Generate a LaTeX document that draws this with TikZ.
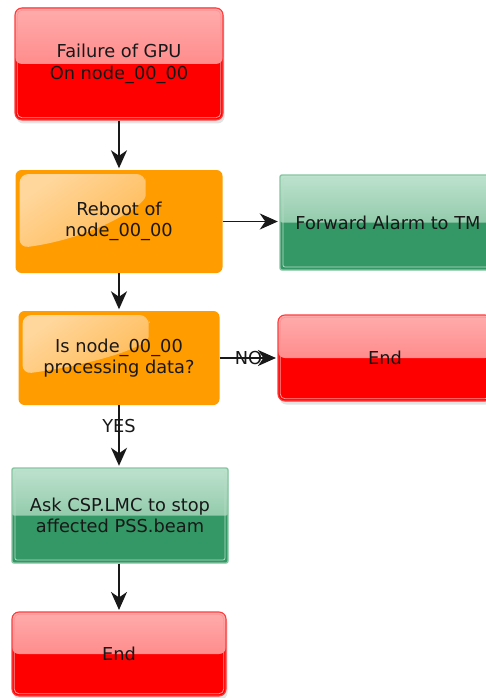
\documentclass[tikz,border=0pt]{standalone}
\usepackage{fontspec}
\setmainfont{DejaVu Sans}
\usetikzlibrary{arrows.meta,shadows}

\definecolor{redfill}{RGB}{255,0,0}
\definecolor{redtop}{RGB}{255,172,172}
\definecolor{redmid}{RGB}{255,108,108}
\definecolor{redline}{RGB}{255,60,60}
\definecolor{redinner}{RGB}{255,150,150}
\definecolor{grnfill}{RGB}{52,152,102}
\definecolor{grntop}{RGB}{190,226,206}
\definecolor{grnmid}{RGB}{104,180,138}
\definecolor{grnline}{RGB}{135,198,162}
\definecolor{orgfill}{RGB}{255,156,0}
\definecolor{orgglow}{RGB}{255,214,155}
\definecolor{orgfade}{RGB}{255,168,40}
\definecolor{txt}{RGB}{24,24,24}

\tikzset{
  lbl/.style={font=\fontsize{17.8}{21.5}\selectfont, text=txt, align=center},
  redbox/.style={lbl, rounded corners=7pt, fill=redfill, draw=redline, line width=1.1pt,
      drop shadow={opacity=0.22, shadow xshift=1.5pt, shadow yshift=-3.5pt},
      path picture={
        \fill[top color=redtop, bottom color=redmid]
          (path picture bounding box.north west) rectangle (path picture bounding box.east);
        \draw[redinner, line width=0.8pt, rounded corners=5pt]
          ([shift={(2.2,2.2)}]path picture bounding box.north west) rectangle
          ([shift={(-2.2,-2.2)}]path picture bounding box.south east);}},
  grnbox/.style={lbl, rounded corners=2pt, fill=grnfill, draw=grnline, line width=1.4pt,
      path picture={
        \fill[top color=grntop, bottom color=grnmid]
          (path picture bounding box.north west) rectangle (path picture bounding box.east);
        \draw[grnline!60!white, line width=0.7pt]
          ([shift={(3,3)}]path picture bounding box.north west) rectangle
          ([shift={(-3,-3)}]path picture bounding box.south east);}},
  orgbox/.style={lbl, rounded corners=6pt, fill=orgfill, draw=none,
      path picture={
        \fill[top color=orgglow, bottom color=orgfade, shading angle=35, rounded corners=9pt]
          ([shift={(4,4)}]path picture bounding box.north west) -- ++(126,0) -- ++(0,13)
          .. controls +(0,18) and +(75,-10) .. ([shift={(4,#1)}]path picture bounding box.north west)
          -- cycle;}},
  flow/.style={draw=black!90, line width=1.8pt, shorten >=1.5pt,
      -{Stealth[length=18pt,width=16pt,inset=5.5pt]}},
  tag/.style={lbl, inner sep=0pt}
}

\begin{document}
\begin{tikzpicture}[x=1pt,y=-1pt]
  \useasboundingbox (0,0) rectangle (486,698);
  \fill[white] (0,0) rectangle (486,698);
  \clip (0,0) rectangle (486,698);

  % process steps
  \node[redbox, minimum width=208pt, minimum height=112pt] (fail) at (119,64)
    {Failure of GPU\\ On node\_00\_00};
  \node[orgbox=78, minimum width=207pt, minimum height=103pt] (reboot) at (119,221.5)
    {Reboot of\\ node\_00\_00};
  \node[grnbox, minimum width=216pt, minimum height=95pt] (fwd) at (388,222.5)
    {Forward Alarm to TM};
  \node[orgbox=63, minimum width=201pt, minimum height=94pt] (check) at (119,358)
    {Is node\_00\_00\\ processing data?};
  \node[redbox, minimum width=214pt, minimum height=86pt] (endA) at (385,358)
    {End};
  \node[grnbox, minimum width=216pt, minimum height=95pt] (ask) at (120,515.5)
    {Ask CSP.LMC to stop\\ affected PSS.beam};
  \node[redbox, minimum width=214pt, minimum height=84pt] (endB) at (119,654)
    {End};

  % connectors
  \draw[flow] (fail.south) -- (fail.south |- reboot.north);
  \draw[flow] (reboot.east) -- (reboot.east -| fwd.west);
  \draw[flow] (reboot.south) -- (reboot.south |- check.north);
  \draw[flow] (check.east) -- node[tag, midway] {NO} (check.east -| endA.west);
  \draw[flow] (check.south) -- node[tag, pos=0.33] {YES} (check.south |- ask.north);
  \draw[flow] (ask.south -| check.south) -- (check.south |- endB.north);
\end{tikzpicture}
\end{document}
